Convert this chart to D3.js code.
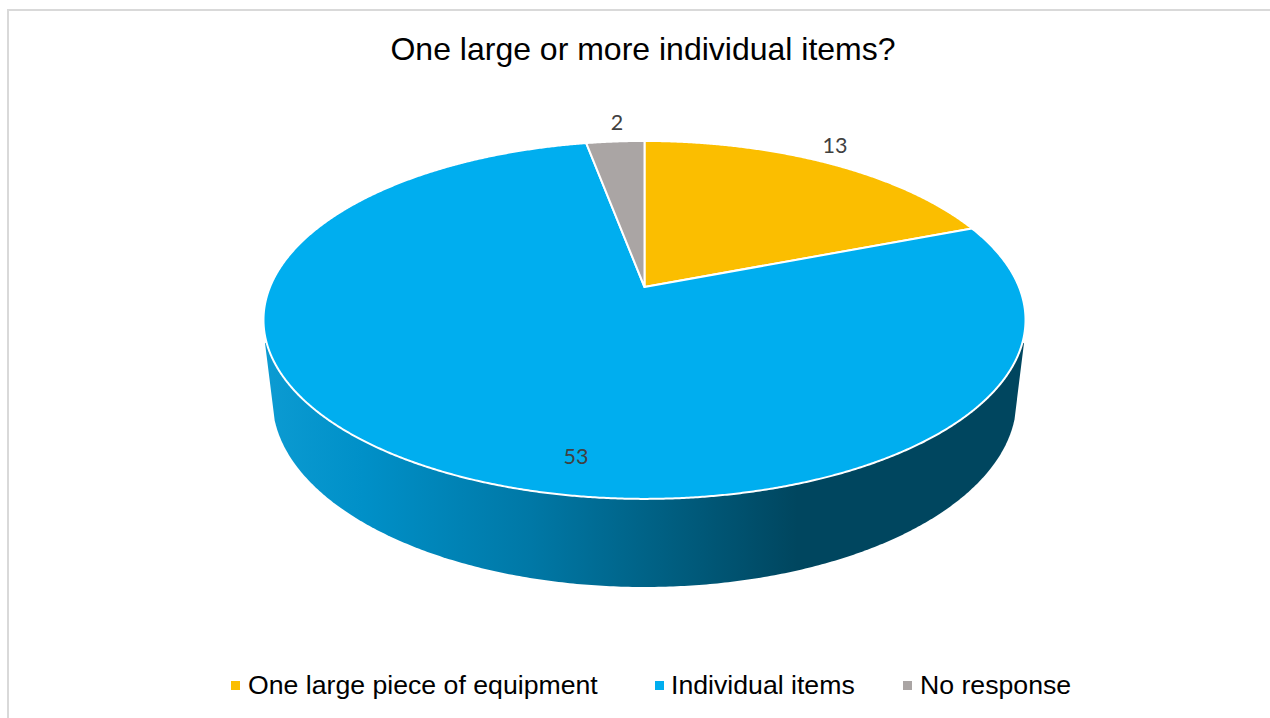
<!DOCTYPE html>
<html>
<head>
<meta charset="utf-8">
<script src="https://cdn.jsdelivr.net/npm/d3@7"></script>
<style>
html,body{margin:0;padding:0;background:#fff;overflow:hidden}
svg{display:block}
</style>
</head>
<body>
<div id="chart"></div>
<script>
// ---- data ----
const titleText = "One large or more individual items?";
const categories = ["One large piece of equipment", "Individual items", "No response"];
const values = [13, 53, 2];
const colors = ["#FBBE00", "#00AEEF", "#AAA5A4"];

// ---- layout ----
const W = 1270, H = 718;
const cx = 644.5, apexY = 287;        // circle centre as projected
const persp = 0.184, scaleX = 374.5, scaleY = 172.9;  // perspective tilt
const lower = {cy: 400, rx: 372, ry: 187};            // bottom rim of the disc
const labelAt = [[835, 145], [576, 456], [617, 122]];
const legendMarkerX = [231, 655, 903], legendTextX = [248, 671, 920];

const svg = d3.select("#chart").append("svg").attr("width", W).attr("height", H);
const defs = svg.append("defs");

// chart frame
svg.append("path").attr("d", `M8 ${H}V10H${W}`).attr("fill", "none")
  .attr("stroke", "#D9D9D9").attr("stroke-width", 2);

// side gradient
const grad = defs.append("linearGradient").attr("id", "side")
  .attr("gradientUnits", "userSpaceOnUse").attr("x1", 264).attr("x2", 1026).attr("y1", 0).attr("y2", 0);
[[0, "#0C9BD2"], [0.13, "#0090C8"], [0.35, "#0078A6"], [0.52, "#006083"], [0.70, "#00465F"], [1, "#00465F"]]
  .forEach(([o, c]) => grad.append("stop").attr("offset", o).attr("stop-color", c));

// perspective projection of a unit-circle point at pie angle a
const project = (a, r = 1) => {
  const u = r * Math.sin(a), v = r * Math.cos(a), w = 1 + persp * v;
  return [cx + scaleX * u / w, apexY - scaleY * v / w];
};

// side wall: straight down from the top rim, then round the bottom rim
const tangent = Math.acos(370 / lower.rx);
const lowerRim = d3.range(tangent, Math.PI - tangent + 0.001, 0.01)
  .map(t => [cx + lower.rx * Math.cos(t), lower.cy + lower.ry * Math.sin(t)]);
const wall = [[cx + 379.5, 343], ...lowerRim, [cx - 379.5, 343], [cx, 320]];
svg.append("path").attr("d", d3.line()(wall)).attr("fill", "url(#side)");

// top face
const pieData = d3.pie().sort(null).value(d => d)(values);
const topFace = svg.append("g");
topFace.selectAll("path").data(pieData).join("path")
  .attr("d", d => {
    const n = Math.ceil((d.endAngle - d.startAngle) / 0.005);
    const pts = d3.range(n + 1).map(i => project(d.startAngle + (d.endAngle - d.startAngle) * i / n));
    return d3.line()([project(0, 0), ...pts]) + "Z";
  })
  .attr("fill", (d, i) => colors[i])
  .attr("stroke", "#fff").attr("stroke-width", 2).attr("stroke-linejoin", "round");

// value labels
svg.append("g").selectAll("text").data(values).join("text")
  .attr("x", (d, i) => labelAt[i][0]).attr("y", (d, i) => labelAt[i][1])
  .attr("dy", "0.35em").attr("text-anchor", "middle")
  .attr("font-family", "Lato, Carlito, sans-serif").attr("font-size", 21.5)
  .attr("fill", "#404040").text(d => d);

// title
svg.append("text").attr("x", 643).attr("y", 60).attr("text-anchor", "middle")
  .attr("font-family", "'Liberation Sans', Arial, sans-serif").attr("font-size", 32)
  .attr("fill", "#000").text(titleText);

// legend
const leg = svg.append("g").selectAll("g").data(categories).join("g");
leg.append("rect").attr("x", (d, i) => legendMarkerX[i]).attr("y", 681)
  .attr("width", 9).attr("height", 9).attr("fill", (d, i) => colors[i]);
leg.append("text").attr("x", (d, i) => legendTextX[i]).attr("y", 694)
  .attr("font-family", "'Liberation Sans', Arial, sans-serif").attr("font-size", 26.67)
  .attr("fill", "#000").text(d => d);
</script>
</body>
</html>
